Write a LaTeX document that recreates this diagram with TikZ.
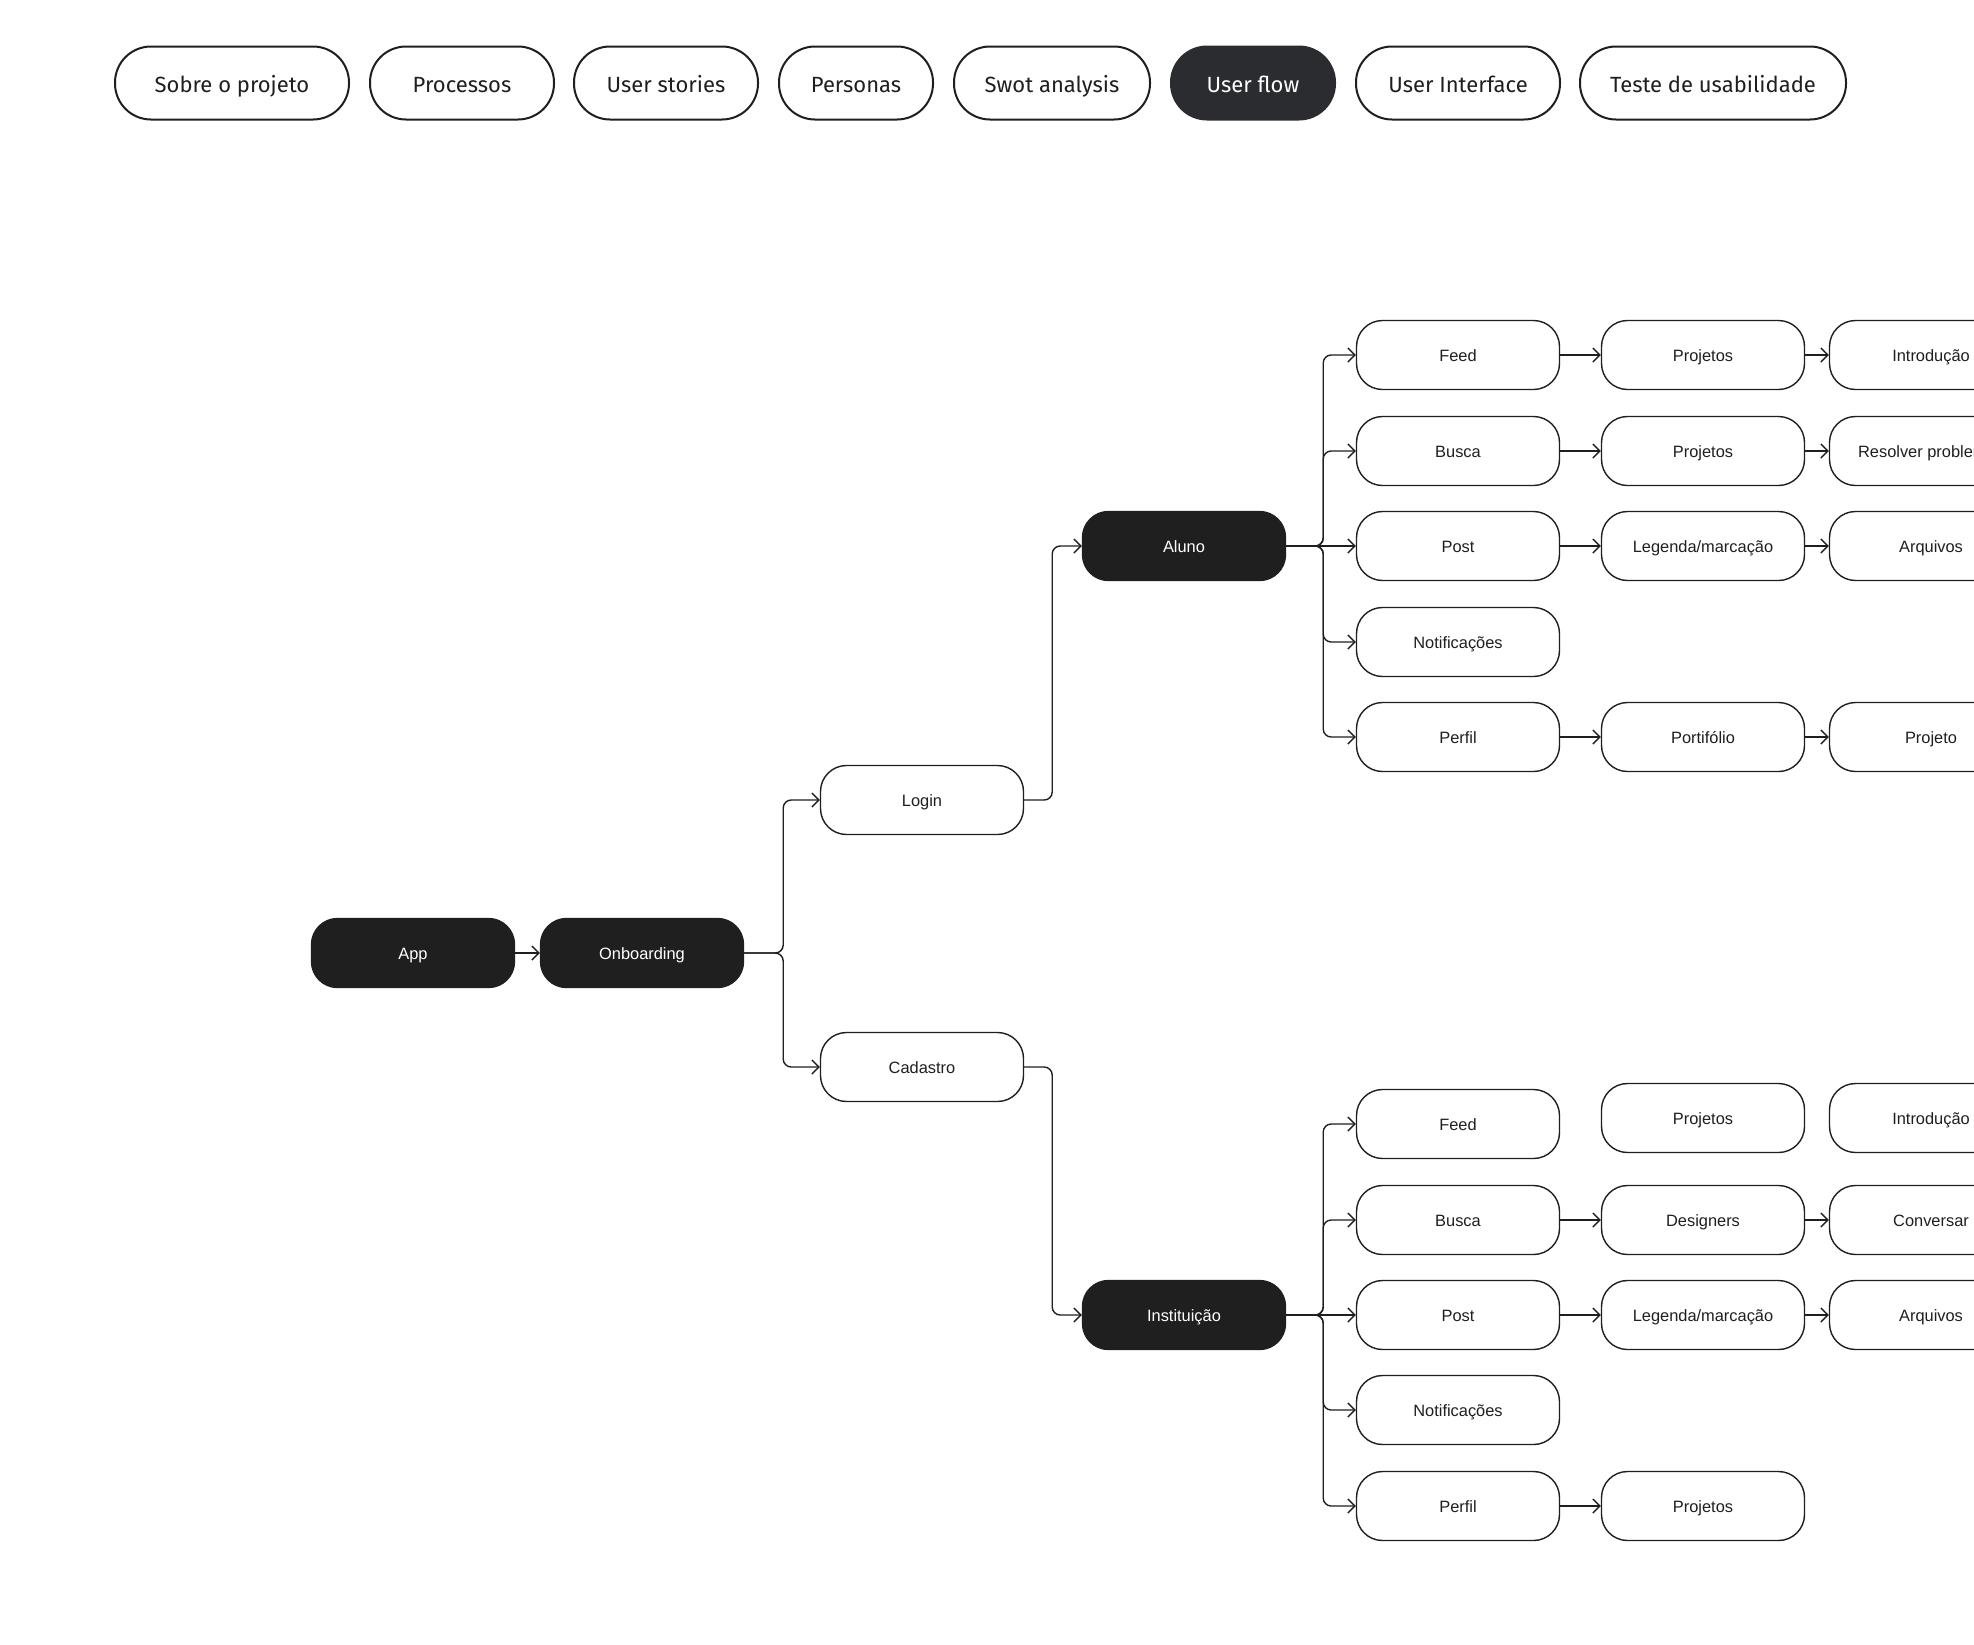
\documentclass[tikz,border=0pt]{standalone}
\usepackage{fontspec}
\setmainfont{Liberation Sans}
\newfontfamily\tabfont{Fira Sans}
\usetikzlibrary{arrows.meta}
\definecolor{ink}{HTML}{1F1F1F}
\definecolor{tabink}{HTML}{2B2C30}

\begin{document}
\begin{tikzpicture}[x=0.5pt, y=-0.5pt,
  tab/.style = {draw=ink, line width=1pt, rounded corners=18pt,
    minimum height=36.5pt, inner sep=0pt, text=ink,
    text height=2.1ex, text depth=0.3ex,
    font=\tabfont\fontsize{11}{13}\selectfont},
  flow/.style = {draw=ink, line width=0.7pt, rounded corners=13pt,
    minimum width=101.5pt, minimum height=34.5pt, inner sep=0pt, text=ink,
    text height=1.6ex, text depth=0.3ex,
    font=\fontsize{8.2}{10}\selectfont},
  dark/.style = {flow, fill=ink, text=white},
  link/.style = {draw=ink, line width=0.7pt, rounded corners=4pt,
    -{Straight Barb[length=3.5pt,width=7pt]}}]
  \clip (0,0) rectangle (1974,1644);
  \fill[white] (0,0) rectangle (1974,1644);

  % menu
  \node[tab, minimum width=117pt] (sobre) at (232,83) {Sobre o projeto};
  \node[tab, minimum width=92pt] (processos) at (462,83) {Processos};
  \node[tab, minimum width=92pt] (stories) at (666,83) {User stories};
  \node[tab, minimum width=77pt] (personas) at (856,83) {Personas};
  \node[tab, minimum width=98pt] (swot) at (1052,83) {Swot analysis};
  \node[tab, minimum width=82pt, fill=tabink, draw=tabink, text=white] (userflow) at (1253,83) {User flow};
  \node[tab, minimum width=102pt] (interface) at (1458,83) {User Interface};
  \node[tab, minimum width=133pt] (teste) at (1713,83) {Teste de usabilidade};

  % flow
  \node[dark] (app) at (413,953) {App};
  \node[dark] (onb) at (642,953) {Onboarding};
  \node[flow] (login) at (922,800) {Login};
  \node[flow] (cad) at (922,1067) {Cadastro};
  \node[dark] (aluno) at (1184,546) {Aluno};
  \node[dark] (inst) at (1184,1315) {Instituição};

  \node[flow] (a-feed) at (1458,355) {Feed};
  \node[flow] (a-busca) at (1458,451) {Busca};
  \node[flow] (a-post) at (1458,546) {Post};
  \node[flow] (a-notif) at (1458,642) {Notificações};
  \node[flow] (a-perfil) at (1458,737) {Perfil};
  \node[flow] (a-proj1) at (1703,355) {Projetos};
  \node[flow] (a-proj2) at (1703,451) {Projetos};
  \node[flow] (a-leg) at (1703,546) {Legenda/marcação};
  \node[flow] (a-port) at (1703,737) {Portifólio};
  \node[flow] (a-intro) at (1931,355) {Introdução};
  \node[flow] (a-resolver) at (1931,451) {Resolver problemas};
  \node[flow] (a-arq) at (1931,546) {Arquivos};
  \node[flow] (a-projeto) at (1931,737) {Projeto};

  \node[flow] (i-feed) at (1458,1124) {Feed};
  \node[flow] (i-busca) at (1458,1220) {Busca};
  \node[flow] (i-post) at (1458,1315) {Post};
  \node[flow] (i-notif) at (1458,1410) {Notificações};
  \node[flow] (i-perfil) at (1458,1506) {Perfil};
  \node[flow] (i-proj) at (1703,1118) {Projetos};
  \node[flow] (i-des) at (1703,1220) {Designers};
  \node[flow] (i-leg) at (1703,1315) {Legenda/marcação};
  \node[flow] (i-proj2) at (1703,1506) {Projetos};
  \node[flow] (i-intro) at (1931,1118) {Introdução};
  \node[flow] (i-conv) at (1931,1220) {Conversar};
  \node[flow] (i-arq) at (1931,1315) {Arquivos};

  % connectors
  \draw[link] (app) -- (onb);
  \draw[link] (onb.east) -- ++(39,0) |- (login.west);
  \draw[link] (onb.east) -- ++(39,0) |- (cad.west);
  \draw[link] (login.east) -- ++(28,0) |- (aluno.west);
  \draw[link] (cad.east) -- ++(28,0) |- (inst.west);

  \draw[link] (aluno.east) -- ++(37,0) |- (a-feed.west);
  \draw[link] (aluno.east) -- ++(37,0) |- (a-busca.west);
  \draw[link] (aluno) -- (a-post);
  \draw[link] (aluno.east) -- ++(37,0) |- (a-notif.west);
  \draw[link] (aluno.east) -- ++(37,0) |- (a-perfil.west);
  \draw[link] (a-feed) -- (a-proj1);
  \draw[link] (a-busca) -- (a-proj2);
  \draw[link] (a-post) -- (a-leg);
  \draw[link] (a-perfil) -- (a-port);
  \draw[link] (a-proj1) -- (a-intro);
  \draw[link] (a-proj2) -- (a-resolver);
  \draw[link] (a-leg) -- (a-arq);
  \draw[link] (a-port) -- (a-projeto);

  \draw[link] (inst.east) -- ++(37,0) |- (i-feed.west);
  \draw[link] (inst.east) -- ++(37,0) |- (i-busca.west);
  \draw[link] (inst) -- (i-post);
  \draw[link] (inst.east) -- ++(37,0) |- (i-notif.west);
  \draw[link] (inst.east) -- ++(37,0) |- (i-perfil.west);
  \draw[link] (i-busca) -- (i-des);
  \draw[link] (i-post) -- (i-leg);
  \draw[link] (i-perfil) -- (i-proj2);
  \draw[link] (i-des) -- (i-conv);
  \draw[link] (i-leg) -- (i-arq);
\end{tikzpicture}
\end{document}
